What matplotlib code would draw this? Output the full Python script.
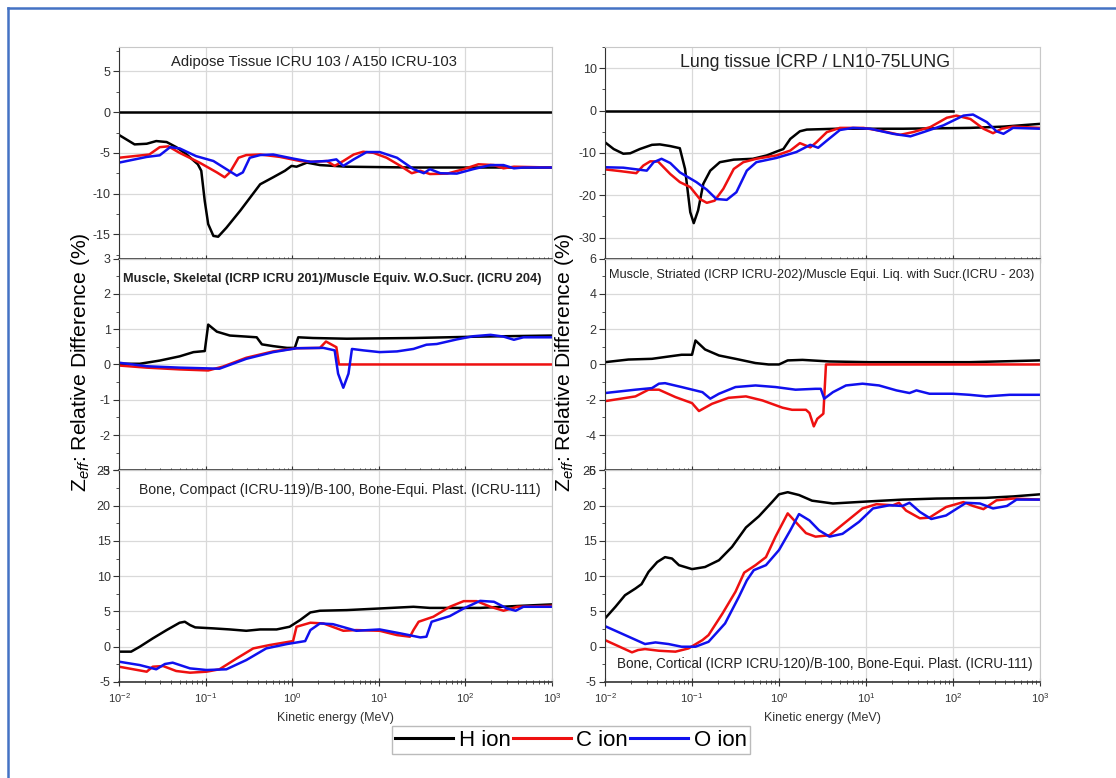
import matplotlib
matplotlib.use("Agg")
import matplotlib.pyplot as plt
from matplotlib.ticker import AutoMinorLocator, LogLocator, NullFormatter
from matplotlib.lines import Line2D
import numpy as np

plt.rcParams['font.family'] = ['Liberation Sans', 'DejaVu Sans']
plt.rcParams['mathtext.fontset'] = 'custom'
plt.rcParams['mathtext.rm'] = 'Liberation Sans'
plt.rcParams['mathtext.it'] = 'Liberation Sans:italic'
plt.rcParams['axes.unicode_minus'] = False

# data: (log10 kinetic energy [MeV], relative difference [%])
adipose_zero = [(-2, 0), (3, 0)]
adipose_h = [(-2, -2.8), (-1.82, -3.96), (-1.68, -3.88), (-1.57, -3.55), (-1.45, -3.67), (-1.34, -4.29),
             (-1.22, -5.18), (-1.09, -6.4), (-1.05, -7.2), (-1.01, -10.9), (-0.97, -13.75), (-0.91, -15.2),
             (-0.855, -15.3), (-0.76, -14.2), (-0.6, -12.1), (-0.37, -8.86), (-0.22, -8.0), (-0.084, -7.2),
             (-0.007, -6.6), (0.05, -6.7), (0.17, -6.2), (0.32, -6.5), (0.63, -6.7), (1.4, -6.8), (3, -6.8)]
adipose_c = [(-2, -5.6), (-1.65, -5.2), (-1.53, -4.3), (-1.43, -4.2), (-1.3, -5.0), (-1.07, -6.2),
             (-0.87, -7.4), (-0.78, -8.0), (-0.72, -7.4), (-0.62, -5.6), (-0.53, -5.27), (-0.37, -5.2),
             (-0.14, -5.5), (0.09, -6.0), (0.24, -6.1), (0.4, -6.0), (0.49, -6.6), (0.59, -6.0), (0.71, -5.2),
             (0.82, -4.86), (0.94, -5.0), (1.09, -5.6), (1.25, -6.6), (1.38, -7.5), (1.48, -7.2), (1.59, -7.6),
             (1.79, -7.55), (1.98, -7.0), (2.15, -6.4), (2.33, -6.5), (2.44, -6.9), (2.56, -6.7), (3, -6.8)]
adipose_o = [(-2, -6.2), (-1.68, -5.5), (-1.53, -5.3), (-1.41, -4.3), (-1.3, -4.45), (-1.11, -5.4),
             (-0.91, -6.0), (-0.76, -7.0), (-0.64, -7.8), (-0.57, -7.4), (-0.49, -5.6), (-0.37, -5.27),
             (-0.22, -5.2), (0.01, -5.7), (0.21, -6.1), (0.4, -6.0), (0.51, -5.8), (0.59, -6.6), (0.71, -5.8),
             (0.86, -4.9), (1.01, -4.9), (1.21, -5.6), (1.4, -7.0), (1.52, -7.5), (1.59, -7.0), (1.71, -7.5),
             (1.9, -7.55), (2.09, -7.0), (2.29, -6.5), (2.44, -6.5), (2.56, -6.9), (2.67, -6.8), (3, -6.8)]

lung_zero = [(-2, 0), (2.0, 0)]
lung_h = [(-2, -7.5), (-1.9, -9.1), (-1.79, -10.2), (-1.71, -10.1), (-1.6, -9.1), (-1.46, -8.1), (-1.37, -8.0),
          (-1.25, -8.4), (-1.14, -8.9), (-1.08, -13.8), (-1.02, -24), (-0.98, -26.6), (-0.93, -23.6),
          (-0.87, -17.3), (-0.79, -14.2), (-0.68, -12.2), (-0.52, -11.6), (-0.3, -11.4), (-0.14, -10.6),
          (-0.03, -9.7), (0.05, -9.1), (0.13, -6.7), (0.24, -4.9), (0.32, -4.5), (0.66, -4.3), (1.43, -4.3),
          (2.2, -4.1), (2.58, -3.8), (3, -3.15)]
lung_c = [(-2, -13.9), (-1.83, -14.3), (-1.64, -14.8), (-1.56, -13.0), (-1.48, -12.0), (-1.39, -12.05),
          (-1.25, -15.0), (-1.14, -16.9), (-1.02, -18.1), (-0.91, -20.9), (-0.83, -21.8), (-0.74, -21.3),
          (-0.64, -18.5), (-0.52, -13.8), (-0.41, -12.2), (-0.26, -11.4), (-0.03, -10.6), (0.13, -9.45),
          (0.24, -7.7), (0.36, -8.7), (0.43, -7.5), (0.55, -5.1), (0.7, -4.1), (0.97, -4.1), (1.2, -4.9),
          (1.39, -5.75), (1.54, -5.1), (1.74, -3.9), (1.93, -1.7), (2.04, -1.2), (2.2, -2.0), (2.35, -4.3),
          (2.46, -5.35), (2.56, -4.3), (2.69, -3.8), (3, -4.1)]
lung_o = [(-2, -13.4), (-1.79, -13.5), (-1.52, -14.2), (-1.44, -12.2), (-1.35, -11.4), (-1.25, -12.4),
          (-1.14, -14.6), (-0.95, -16.9), (-0.83, -18.7), (-0.72, -20.9), (-0.6, -21.1), (-0.49, -19.3),
          (-0.37, -14.2), (-0.26, -12.2), (-0.03, -11.2), (0.2, -9.8), (0.36, -8.1), (0.45, -8.8),
          (0.55, -7.1), (0.7, -4.6), (0.85, -4.1), (1.05, -4.3), (1.31, -5.5), (1.51, -6.1), (1.66, -5.1),
          (1.89, -3.5), (2.12, -1.2), (2.23, -0.95), (2.39, -2.75), (2.5, -4.9), (2.58, -5.5), (2.69, -4.1),
          (3, -4.3)]

skeletal_h = [(-2, 0.02), (-1.76, 0.02), (-1.53, 0.11), (-1.3, 0.23), (-1.14, 0.35), (-1.01, 0.38),
              (-0.97, 1.13), (-0.87, 0.93), (-0.72, 0.82), (-0.53, 0.79), (-0.41, 0.77), (-0.35, 0.57),
              (-0.22, 0.52), (-0.06, 0.47), (0.03, 0.47), (0.07, 0.77), (0.24, 0.75), (0.63, 0.73),
              (1.4, 0.75), (2.17, 0.79), (3, 0.82)]
skeletal_c = [(-2, -0.03), (-1.68, -0.09), (-1.3, -0.14), (-0.97, -0.17), (-0.8, -0.06), (-0.53, 0.19),
              (-0.22, 0.37), (0.05, 0.46), (0.32, 0.47), (0.39, 0.65), (0.51, 0.49), (0.54, 0.0), (3, 0.0)]
skeletal_o = [(-2, 0.05), (-1.68, -0.05), (-1.3, -0.09), (-0.84, -0.12), (-0.53, 0.16), (-0.22, 0.35),
              (0.05, 0.46), (0.36, 0.47), (0.49, 0.4), (0.53, -0.26), (0.59, -0.66), (0.65, -0.26),
              (0.69, 0.44), (0.82, 0.4), (1.01, 0.35), (1.21, 0.37), (1.4, 0.44), (1.55, 0.56), (1.67, 0.58),
              (1.9, 0.71), (2.09, 0.8), (2.29, 0.84), (2.44, 0.79), (2.56, 0.7), (2.67, 0.77), (3, 0.77)]

striated_h = [(-2, 0.13), (-1.73, 0.28), (-1.46, 0.32), (-1.27, 0.45), (-1.12, 0.55), (-1.0, 0.55),
              (-0.96, 1.36), (-0.85, 0.85), (-0.69, 0.51), (-0.5, 0.32), (-0.27, 0.08), (-0.12, 0.0),
              (0.0, 0.0), (0.1, 0.23), (0.27, 0.26), (0.58, 0.17), (1.04, 0.13), (2.19, 0.13), (3, 0.23)]
striated_c = [(-2, -2.08), (-1.65, -1.81), (-1.5, -1.43), (-1.38, -1.43), (-1.19, -1.85), (-1.0, -2.19),
              (-0.92, -2.64), (-0.77, -2.23), (-0.58, -1.89), (-0.38, -1.81), (-0.19, -2.04), (0.04, -2.45),
              (0.15, -2.57), (0.31, -2.57), (0.35, -2.75), (0.4, -3.51), (0.44, -3.08), (0.51, -2.79),
              (0.54, 0.0), (3, 0.0)]
striated_o = [(-2, -1.62), (-1.65, -1.43), (-1.46, -1.34), (-1.38, -1.09), (-1.31, -1.06), (-1.12, -1.28),
              (-0.88, -1.57), (-0.79, -1.94), (-0.69, -1.66), (-0.5, -1.28), (-0.27, -1.19), (-0.04, -1.28),
              (0.19, -1.43), (0.42, -1.38), (0.48, -1.38), (0.52, -1.94), (0.62, -1.57), (0.77, -1.19),
              (0.96, -1.09), (1.15, -1.19), (1.35, -1.47), (1.5, -1.62), (1.58, -1.47), (1.73, -1.66),
              (2.0, -1.66), (2.19, -1.72), (2.38, -1.81), (2.65, -1.72), (3, -1.72)]

compact_h = [(-2, -0.7), (-1.86, -0.7), (-1.76, 0.0), (-1.61, 1.18), (-1.45, 2.36), (-1.3, 3.4), (-1.24, 3.54),
             (-1.18, 3.07), (-1.12, 2.74), (-0.91, 2.6), (-0.72, 2.45), (-0.53, 2.26), (-0.37, 2.45),
             (-0.18, 2.45), (-0.03, 2.83), (0.09, 3.77), (0.21, 4.86), (0.32, 5.1), (0.63, 5.19), (1.01, 5.42),
             (1.4, 5.66), (1.59, 5.5), (2.17, 5.5), (2.56, 5.75), (3, 6.0)]
compact_c = [(-2, -2.83), (-1.68, -3.54), (-1.61, -2.83), (-1.49, -2.74), (-1.34, -3.44), (-1.18, -3.68),
             (-0.99, -3.54), (-0.84, -3.2), (-0.64, -1.65), (-0.45, -0.24), (-0.26, 0.24), (0.01, 0.8),
             (0.05, 2.83), (0.21, 3.4), (0.36, 3.3), (0.59, 2.26), (0.74, 2.36), (1.01, 2.26), (1.21, 1.65),
             (1.36, 1.42), (1.4, 2.36), (1.46, 3.54), (1.63, 4.25), (1.82, 5.66), (1.98, 6.46), (2.13, 6.46),
             (2.29, 5.66), (2.44, 5.1), (2.6, 5.66), (3, 5.8)]
compact_o = [(-2, -2.12), (-1.76, -2.6), (-1.57, -3.2), (-1.47, -2.45), (-1.38, -2.26), (-1.18, -3.07),
             (-0.99, -3.3), (-0.76, -3.2), (-0.53, -1.89), (-0.3, -0.24), (-0.06, 0.38), (0.15, 0.8),
             (0.21, 2.36), (0.32, 3.3), (0.47, 3.2), (0.74, 2.26), (1.01, 2.45), (1.25, 1.89), (1.48, 1.32),
             (1.55, 1.42), (1.61, 3.54), (1.82, 4.34), (1.98, 5.42), (2.17, 6.5), (2.33, 6.37), (2.48, 5.42),
             (2.58, 5.1), (2.67, 5.66), (3, 5.66)]

cortical_h = [(-2, 4.0), (-1.88, 5.66), (-1.77, 7.3), (-1.65, 8.25), (-1.58, 8.87), (-1.5, 10.6), (-1.4, 12.0),
              (-1.31, 12.7), (-1.23, 12.5), (-1.15, 11.56), (-1.0, 11.0), (-0.85, 11.3), (-0.69, 12.26),
              (-0.54, 14.15), (-0.38, 16.9), (-0.23, 18.5), (-0.08, 20.5), (0.0, 21.6), (0.1, 21.9),
              (0.23, 21.5), (0.38, 20.7), (0.62, 20.3), (1.04, 20.6), (1.42, 20.85), (1.81, 21.0),
              (2.38, 21.1), (2.69, 21.3), (3, 21.6)]
cortical_c = [(-2, 0.94), (-1.85, 0.1), (-1.69, -0.8), (-1.62, -0.47), (-1.54, -0.33), (-1.38, -0.57),
              (-1.19, -0.7), (-1.04, -0.24), (-0.88, 0.94), (-0.81, 1.65), (-0.65, 4.7), (-0.5, 7.8),
              (-0.4, 10.5), (-0.27, 11.56), (-0.15, 12.7), (-0.04, 15.6), (0.1, 18.9), (0.19, 17.7),
              (0.31, 16.1), (0.42, 15.6), (0.58, 15.8), (0.77, 17.7), (0.96, 19.6), (1.12, 20.2), (1.31, 20.05),
              (1.38, 20.4), (1.46, 19.3), (1.62, 18.2), (1.73, 18.3), (1.92, 19.8), (2.12, 20.5), (2.23, 19.95),
              (2.35, 19.5), (2.5, 20.75), (2.69, 21.0), (3, 20.85)]
cortical_o = [(-2, 2.92), (-1.77, 1.65), (-1.54, 0.38), (-1.42, 0.61), (-1.27, 0.38), (-1.12, 0.0),
              (-0.96, 0.0), (-0.81, 0.7), (-0.62, 3.3), (-0.46, 7.1), (-0.37, 9.4), (-0.29, 10.85),
              (-0.15, 11.56), (0.0, 13.7), (0.13, 16.5), (0.23, 18.8), (0.35, 17.9), (0.46, 16.5), (0.58, 15.6),
              (0.73, 16.0), (0.92, 17.7), (1.08, 19.6), (1.27, 20.05), (1.42, 19.95), (1.5, 20.4), (1.62, 19.1),
              (1.75, 18.1), (1.92, 18.6), (2.15, 20.4), (2.31, 20.3), (2.46, 19.6), (2.62, 19.95), (2.73, 20.85),
              (3, 20.85)]

titles = ["Adipose Tissue ICRU 103 / A150 ICRU-103",
          "Lung tissue ICRP / LN10-75LUNG",
          "Muscle, Skeletal (ICRP ICRU 201)/Muscle Equiv. W.O.Sucr. (ICRU 204)",
          "Muscle, Striated (ICRP ICRU-202)/Muscle Equi. Liq. with Sucr.(ICRU - 203)",
          "Bone, Compact (ICRU-119)/B-100, Bone-Equi. Plast. (ICRU-111)",
          "Bone, Cortical (ICRP ICRU-120)/B-100, Bone-Equi. Plast. (ICRU-111)"]
ion_labels = ["H ion", "C ion", "O ion"]
ion_colors = ["black", "#ee1010", "#1010ee"]

W, H = 1116, 778
fig = plt.figure(figsize=(W / 100, H / 100), dpi=100)

# page frame (blue line on left and top)
fig.add_artist(Line2D([8 / W, 8 / W], [0, 1 - 8 / H], color="#4472c4", lw=1.8))
fig.add_artist(Line2D([8 / W, 1], [1 - 8 / H, 1 - 8 / H], color="#4472c4", lw=1.8))

col_left = [119 / W, 605 / W]
col_w = [433 / W, 435 / W]
row_h = 211.67 / H
row_bottom = [(H - 258.7) / H, (H - 470.3) / H, (H - 682) / H]

panels = [
    (0, 0, [adipose_h, adipose_c, adipose_o], adipose_zero, (-18, 8), [-15, -10, -5, 0, 5], titles[0],
     (0.45, 0.929), dict(fontsize=10.6)),
    (0, 1, [lung_h, lung_c, lung_o], lung_zero, (-35, 15), [-30, -20, -10, 0, 10], titles[1],
     (0.483, 0.929), dict(fontsize=12.8)),
    (1, 0, [skeletal_h, skeletal_c, skeletal_o], None, (-3, 3), [-3, -2, -1, 0, 1, 2, 3], titles[2],
     (0.492, 0.904), dict(fontsize=9.2, fontweight="bold")),
    (1, 1, [striated_h, striated_c, striated_o], None, (-6, 6), [-6, -4, -2, 0, 2, 4, 6], titles[3],
     (0.497, 0.923), dict(fontsize=9.2)),
    (2, 0, [compact_h, compact_c, compact_o], None, (-5, 25), [-5, 0, 5, 10, 15, 20, 25], titles[4],
     (0.509, 0.907), dict(fontsize=10.1)),
    (2, 1, [cortical_h, cortical_c, cortical_o], None, (-5, 25), [-5, 0, 5, 10, 15, 20, 25], titles[5],
     (0.505, 0.085), dict(fontsize=9.75)),
]

for row, col, curves, zero, ylim, yticks, title, tpos, tkw in panels:
    ax = fig.add_axes([col_left[col], row_bottom[row], col_w[col], row_h])
    ax.set_xscale("log")
    ax.set_xlim(1e-2, 1e3)
    ax.set_ylim(*ylim)
    ax.set_yticks(yticks)
    ax.yaxis.set_minor_locator(AutoMinorLocator(2))
    ax.xaxis.set_major_locator(LogLocator(base=10, numticks=10))
    ax.xaxis.set_minor_locator(LogLocator(base=10, subs=np.arange(2, 10), numticks=20))
    ax.xaxis.set_minor_formatter(NullFormatter())
    ax.grid(True, which="major", color="#d9d9d9", lw=0.9)
    ax.set_axisbelow(True)
    for s in ["top", "right"]:
        ax.spines[s].set_color("#c8c8c8")
    ax.spines["left"].set_color("#333333")
    ax.spines["bottom"].set_color("#333333")
    ax.spines["bottom"].set_linewidth(1.2)
    ax.tick_params(axis="y", which="major", direction="out", length=4, labelsize=9, colors="#333333", pad=2)
    ax.tick_params(axis="y", which="minor", direction="out", length=2.5, colors="#333333")
    ax.tick_params(axis="x", which="major", direction="inout", length=6, labelsize=8, colors="#333333")
    ax.tick_params(axis="x", which="minor", direction="inout", length=3.5, colors="#333333")
    if row < 2:
        ax.tick_params(axis="x", labelbottom=False)
    else:
        ax.set_xlabel("Kinetic energy (MeV)", fontsize=9, color="#333333", labelpad=5)
    if zero is not None:
        zx, zy = zip(*zero)
        ax.plot(10.0 ** np.array(zx, dtype=float), zy, color="black", lw=1.8)
    for pts, c in zip(curves, ion_colors):
        lx, ly = zip(*pts)
        ax.plot(10.0 ** np.array(lx, dtype=float), ly, color=c, lw=1.8, solid_joinstyle="round")
    ax.text(tpos[0], tpos[1], title, transform=ax.transAxes, ha="center", va="center",
            color="#222222", **tkw)

ylab = r"Z$_{\mathit{eff}}$: Relative Difference (%)"
fig.text(80 / W, 1 - 362 / H, ylab, rotation=90, ha="center", va="center", fontsize=15.2)
fig.text(565 / W, 1 - 362 / H, ylab, rotation=90, ha="center", va="center", fontsize=15.2)

handles = [Line2D([], [], color=c, lw=2.2) for c in ion_colors]
leg = fig.legend(handles, ion_labels, loc="center", bbox_to_anchor=(571 / W, 1 - 740 / H), ncol=3,
                 fontsize=16, frameon=True, fancybox=False, edgecolor="#aaaaaa", handlelength=2.6,
                 handletextpad=0.25, columnspacing=0.1, borderpad=0.15, borderaxespad=0)
leg.get_frame().set_linewidth(1.0)

fig.savefig("out.png", dpi=100)
